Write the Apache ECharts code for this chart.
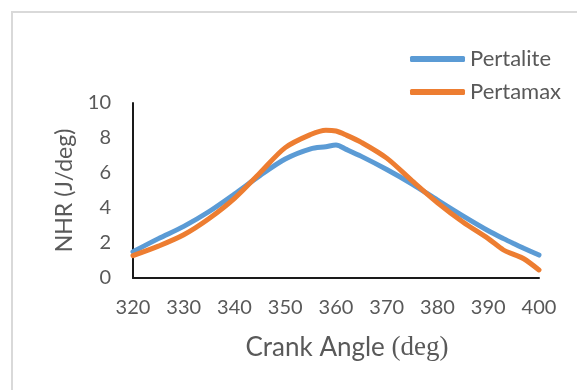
<!DOCTYPE html>
<html>
<head>
<meta charset="utf-8">
<script src="https://cdn.jsdelivr.net/npm/echarts@6/dist/echarts.min.js"></script>
<style>
  html, body { margin: 0; padding: 0; background: #fff; }
  #chart { width: 577px; height: 390px; }
</style>
</head>
<body>
<div id="chart"></div>
<script>
// crank angle (deg)
const crankAngle = [320, 325, 330, 335, 340, 345, 350, 355, 358, 360, 362, 365, 370, 375, 380, 385, 390, 393, 395, 397, 400]
// NHR (J/deg)
const pertalite = [1.5, 2.25, 2.95, 3.8, 4.8, 5.85, 6.8, 7.38, 7.5, 7.6, 7.35, 6.95, 6.2, 5.37, 4.45, 3.55, 2.7, 2.25, 1.97, 1.7, 1.31]
const pertamax = [1.28, 1.82, 2.47, 3.4, 4.55, 6.0, 7.45, 8.2, 8.45, 8.4, 8.17, 7.75, 6.85, 5.55, 4.3, 3.2, 2.25, 1.6, 1.35, 1.1, 0.46]
const yTicks = [0, 2, 4, 6, 8, 10]
const xTicks = [320, 330, 340, 350, 360, 370, 380, 390, 400]

const textColor = '#595959'
const fontFamily = 'Lato, "Open Sans", sans-serif'

const chart = echarts.init(document.getElementById('chart'))

// 把x,y组合成点
const toPoints = (ys) => crankAngle.map((x, i) => [x, ys[i]])

chart.setOption({
  animation: false,
  backgroundColor: '#fff',
  textStyle: { fontFamily: fontFamily, color: textColor },
  graphic: [
    {
      type: 'rect',
      shape: { x: 12, y: 12, width: 620, height: 420 },
      style: { fill: 'none', stroke: '#d9d9d9', lineWidth: 2 },
      silent: true
    }
  ],
  grid: { left: 133, right: 38, top: 103, bottom: 112 },
  legend: {
    orient: 'vertical',
    left: 410,
    top: 47,
    padding: 0,
    itemWidth: 55,
    itemHeight: 6,
    itemGap: 9,
    icon: 'roundRect',
    textStyle: { fontFamily: fontFamily, fontSize: 22, lineHeight: 24, color: textColor },
    data: ['Pertalite', 'Pertamax']
  },
  xAxis: {
    type: 'value',
    min: xTicks[0],
    max: xTicks[xTicks.length - 1],
    interval: 10,
    name: 'Crank Angle {s|(deg)}',
    nameLocation: 'middle',
    nameGap: 56,
    nameTextStyle: {
      fontFamily: fontFamily,
      fontSize: 26,
      color: textColor,
      padding: [0, 0, 0, 22],
      rich: {
        s: { fontFamily: '"Liberation Serif", serif', fontSize: 27, color: textColor }
      }
    },
    axisLine: { show: true, lineStyle: { color: '#1a1a1a', width: 2 } },
    axisTick: { show: false },
    splitLine: { show: false },
    axisLabel: { margin: 20, fontSize: 20, color: textColor, fontFamily: fontFamily }
  },
  yAxis: {
    type: 'value',
    min: yTicks[0],
    max: yTicks[yTicks.length - 1],
    interval: 2,
    name: 'NHR (J/deg)',
    nameLocation: 'middle',
    nameGap: 57,
    nameTextStyle: { fontFamily: fontFamily, fontSize: 23, color: textColor },
    axisLine: { show: true, lineStyle: { color: '#1a1a1a', width: 2 } },
    axisTick: { show: false },
    splitLine: { show: false },
    axisLabel: { margin: 22, fontSize: 20, color: textColor, fontFamily: fontFamily }
  },
  series: [
    {
      name: 'Pertalite',
      type: 'line',
      data: toPoints(pertalite),
      smooth: 0.3,
      showSymbol: false,
      symbol: 'none',
      lineStyle: { color: '#5B9BD5', width: 5, cap: 'round' },
      itemStyle: { color: '#5B9BD5' }
    },
    {
      name: 'Pertamax',
      type: 'line',
      data: toPoints(pertamax),
      smooth: 0.3,
      showSymbol: false,
      symbol: 'none',
      lineStyle: { color: '#ED7D31', width: 5, cap: 'round' },
      itemStyle: { color: '#ED7D31' }
    }
  ]
})
</script>
</body>
</html>
